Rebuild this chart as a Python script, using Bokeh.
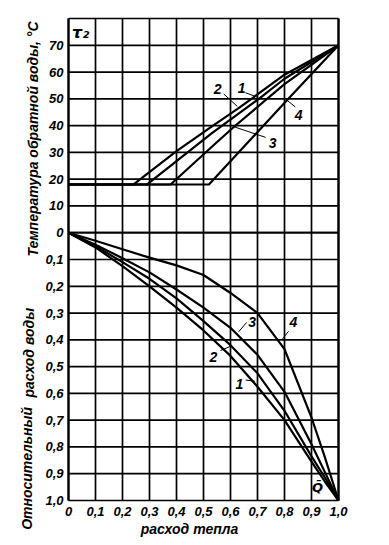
from math import pi
from bokeh.plotting import figure
from bokeh.models import Range1d, LinearAxis, FixedTicker, Label
from bokeh.embed import file_html
from bokeh.resources import INLINE

# ---- axes / ticks ----
heat_ticks = [0, 0.1, 0.2, 0.3, 0.4, 0.5, 0.6, 0.7, 0.8, 0.9, 1.0]
heat_labels = ["0", "0,1", "0,2", "0,3", "0,4", "0,5", "0,6", "0,7", "0,8", "0,9", "1,0"]
temp_ticks = [0, 10, 20, 30, 40, 50, 60, 70]
temp_labels = ["0", "10", "20", "30", "40", "50", "60", "70"]
temp_grid = [0, 10, 20, 30, 40, 50, 60, 70, 80]
flow_ticks = [0.1, 0.2, 0.3, 0.4, 0.5, 0.6, 0.7, 0.8, 0.9, 1.0]
flow_labels = ["0,1", "0,2", "0,3", "0,4", "0,5", "0,6", "0,7", "0,8", "0,9", "1,0"]
flow_grid = [0, 0.1, 0.2, 0.3, 0.4, 0.5, 0.6, 0.7, 0.8, 0.9, 1.0]

# ---- upper part: return water temperature tau2 vs relative heat ----
tau_q_1 = [0, 0.29, 0.53, 0.705, 0.80, 1.0]
tau_1 = [18, 18, 37.1, 50.0, 57.5, 70]
tau_q_2 = [0, 0.24, 0.40, 0.53, 0.63, 0.80, 1.0]
tau_2 = [18, 18, 30.5, 39.6, 46.5, 59.0, 70]
tau_q_3 = [0, 0.378, 0.53, 0.61, 0.80, 1.0]
tau_3 = [18, 18, 32.0, 39.3, 55.5, 70]
tau_q_4 = [0, 0.52, 0.81, 1.0]
tau_4 = [18, 18, 49.6, 70]

# ---- lower part: relative water flow vs relative heat ----
q = [0, 0.1, 0.2, 0.3, 0.4, 0.5, 0.6, 0.7, 0.8, 0.9, 0.95, 1.0]
g_1 = [0, 0.055, 0.125, 0.200, 0.280, 0.365, 0.460, 0.575, 0.700, 0.855, 0.930, 1.0]
g_2 = [0, 0.050, 0.110, 0.172, 0.245, 0.330, 0.420, 0.525, 0.665, 0.835, 0.915, 1.0]
g_3 = [0, 0.045, 0.095, 0.148, 0.212, 0.280, 0.355, 0.456, 0.594, 0.790, 0.895, 1.0]
g_4 = [0, 0.030, 0.062, 0.093, 0.122, 0.158, 0.225, 0.300, 0.435, 0.690, 0.840, 1.0]

FONT = "Liberation Sans"

# ---- layout (pixels) ----
W, H = 385, 543
BOX_L, BOX_W = 68, 270      # plot box inside the canvas
BOX_T, BOX_H = 18, 482
px_x = 1.0 / BOX_W
px_flow = 1.8 / BOX_H
px_temp = 180.0 / BOX_H

x_rng = Range1d(-BOX_L * px_x, 1.0 + (W - BOX_L - BOX_W) * px_x)
flow_rng = Range1d(1.0 + (H - BOX_T - BOX_H) * px_flow, -0.8 - BOX_T * px_flow)
temp_rng = Range1d(-100 - (H - BOX_T - BOX_H) * px_temp, 80 + BOX_T * px_temp)

p = figure(width=W, height=H, output_backend="svg", toolbar_location=None,
           x_range=x_rng, y_range=flow_rng,
           x_axis_location=None, y_axis_location=None,
           min_border=0, min_border_left=0, min_border_right=0,
           min_border_top=0, min_border_bottom=0)
p.extra_y_ranges = {"temp": temp_rng}
p.background_fill_color = "white"
p.border_fill_color = "white"
p.outline_line_color = None
p.xgrid.visible = False
p.ygrid.visible = False

GW = 1.7
n = len(heat_ticks)
# vertical grid lines: lower (flow) part and upper (temperature) part
p.segment(x0=heat_ticks, y0=[flow_grid[0]] * n, x1=heat_ticks, y1=[flow_grid[-1]] * n,
          line_color="black", line_width=GW)
p.segment(x0=heat_ticks, y0=[temp_grid[0]] * n, x1=heat_ticks, y1=[temp_grid[-1]] * n,
          y_range_name="temp", line_color="black", line_width=GW)
# horizontal grid lines
p.segment(x0=[heat_ticks[0]] * len(flow_grid), y0=flow_grid,
          x1=[heat_ticks[-1]] * len(flow_grid), y1=flow_grid,
          line_color="black", line_width=GW)
p.segment(x0=[heat_ticks[0]] * len(temp_grid), y0=temp_grid,
          x1=[heat_ticks[-1]] * len(temp_grid), y1=temp_grid,
          y_range_name="temp", line_color="black", line_width=GW)
# frame edges a bit heavier
p.segment(x0=[heat_ticks[0], heat_ticks[-1]], y0=[flow_grid[-1]] * 2,
          x1=[heat_ticks[0], heat_ticks[-1]], y1=[flow_grid[0]] * 2,
          line_color="black", line_width=2.2)
p.segment(x0=[heat_ticks[0], heat_ticks[-1]], y0=[temp_grid[0]] * 2,
          x1=[heat_ticks[0], heat_ticks[-1]], y1=[temp_grid[-1]] * 2,
          y_range_name="temp", line_color="black", line_width=2.2)


def style_axis(ax):
    ax.axis_line_color = None
    ax.major_tick_line_color = None
    ax.minor_tick_line_color = None
    ax.major_tick_out = 0
    ax.major_tick_in = 0
    ax.minor_tick_out = 0
    ax.major_label_text_font = FONT
    ax.major_label_text_font_style = "bold italic"
    ax.major_label_text_font_size = "13px"
    ax.major_label_text_color = "black"


xax = LinearAxis(ticker=FixedTicker(ticks=heat_ticks),
                 major_label_overrides=dict(zip(heat_ticks, heat_labels)),
                 fixed_location=flow_grid[-1])
style_axis(xax)
xax.major_label_standoff = 6
p.add_layout(xax, "below")

fax = LinearAxis(ticker=FixedTicker(ticks=flow_ticks),
                 major_label_overrides=dict(zip(flow_ticks, flow_labels)),
                 fixed_location=heat_ticks[0])
style_axis(fax)
fax.major_label_standoff = 5
p.add_layout(fax, "left")

tax = LinearAxis(y_range_name="temp", ticker=FixedTicker(ticks=temp_ticks),
                 major_label_overrides=dict(zip(temp_ticks, temp_labels)),
                 fixed_location=heat_ticks[0])
style_axis(tax)
tax.major_label_standoff = 5
p.add_layout(tax, "left")

# curves
LW = 2.2
for xs, ys in [(tau_q_1, tau_1), (tau_q_2, tau_2), (tau_q_3, tau_3), (tau_q_4, tau_4)]:
    p.line(xs, ys, y_range_name="temp", line_color="black", line_width=LW, line_join="round")
for gs in [g_1, g_2, g_3, g_4]:
    p.line(q, gs, line_color="black", line_width=LW, line_join="round")

# curve labels with leaders
upper_marks = [("1", 0.641, 54.2, [0.655, 0.700], [52.3, 50.6]),
               ("2", 0.552, 53.8, [0.575, 0.625], [51.8, 47.2]),
               ("3", 0.756, 33.6, [0.730, 0.615], [35.6, 39.5]),
               ("4", 0.852, 44.0, [0.840, 0.810], [47.0, 49.4])]
lower_marks = [("1", 0.633, 0.565, [0.656, 0.690], [0.550, 0.555]),
               ("2", 0.537, 0.463, [0.563, 0.605], [0.440, 0.422]),
               ("3", 0.680, 0.332, [0.660, 0.630], [0.335, 0.370]),
               ("4", 0.833, 0.334, [0.815, 0.790], [0.368, 0.400])]


def lab(text, x, y, size="14px", rng="default", angle=0.0, font=FONT):
    p.add_layout(Label(x=x, y=y, text=text, y_range_name=rng, angle=angle,
                       text_font=font, text_font_style="bold italic", text_font_size=size,
                       text_color="black", text_align="center", text_baseline="middle"))


for t, x, y, lx, ly in upper_marks:
    lab(t, x, y, rng="temp")
    p.line(lx, ly, y_range_name="temp", line_color="black", line_width=1)
for t, x, y, lx, ly in lower_marks:
    lab(t, x, y)
    p.line(lx, ly, line_color="black", line_width=1)

lab("τ₂", 0.045, 74.7, size="16px", rng="temp", font="DejaVu Sans")
lab("Q̄", 0.922, 0.952, size="13px", font="DejaVu Sans")

# axis titles
lab("Температура обратной воды, °C", -0.13, 35.0, size="14px", rng="temp", angle=pi / 2)
lab("расход воды", -0.148, 0.448, size="14px", angle=pi / 2)
lab("Относительный", -0.155, 0.88, size="14px", angle=pi / 2)
lab("расход тепла", 0.448, 1.108, size="14px")

open("out.html", "w").write(file_html(p, INLINE))
